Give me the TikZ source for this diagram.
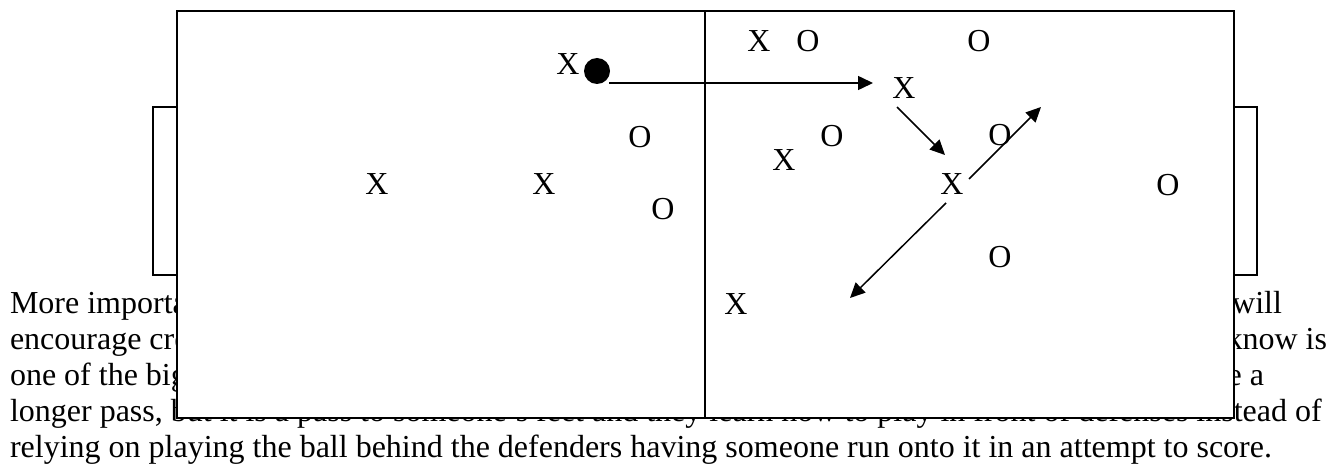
\documentclass[tikz,border=0pt]{standalone}
\usepackage{fontspec}
\setmainfont{Liberation Serif}
\usetikzlibrary{arrows.meta}
\begin{document}
\begin{tikzpicture}[x=1pt,y=-1pt,
  para/.style={inner sep=0pt, outer sep=0pt, font=\fontsize{32}{36}\selectfont},
  player/.style={inner sep=0pt, outer sep=0pt, font=\fontsize{32}{36}\selectfont},
  pitch/.style={draw=black, line width=1.5pt},
  pass/.style={line width=1.5pt, -{Triangle[length=15pt,width=14pt]}}]
\useasboundingbox (0,0) rectangle (1341,465);
\fill[white] (0,0) rectangle (1341,465);
% paragraph behind the pitch
\node[para, anchor=base west] (l1a) at (10,313) {More importa};
\node[para, anchor=base east] (l1b) at (1282,313) {will};
\node[para, anchor=base west] (l2a) at (10,349) {encourage cre};
\node[para, anchor=base east] (l2b) at (1327,349) {know is};
\node[para, anchor=base west] (l3a) at (10,385) {one of the big};
\node[para, anchor=base east] (l3b) at (1264,385) {e a};
\node[para, anchor=base west] (l4) at (10,421) {longer pass, but it is a pass to someone’s feet and they learn how to play in front of defenses instead of};
\node[para, anchor=base west] (l5) at (10,457) {relying on playing the ball behind the defenders having someone run onto it in an attempt to score.};
% pitch
\draw[pitch, fill=white] (177,11) rectangle (1234,418);
\draw[pitch] (153,107) rectangle (177,275);
\draw[pitch] (1234,107) rectangle (1257,275);
\draw[pitch] (705,11) -- (705,418);
% players
\node[player] (x1) at (568,64) {X};
\node[player] (x2) at (904,88) {X};
\node[player] (x3) at (759,41) {X};
\node[player] (o1) at (808,41) {O};
\node[player] (o2) at (979,41) {O};
\node[player] (o3) at (640,137) {O};
\node[player] (o4) at (832,136) {O};
\node[player] (x4) at (784,160) {X};
\node[player] (o5) at (1000,135) {O};
\node[player] (x5) at (952,184) {X};
\node[player] (x6) at (377,184) {X};
\node[player] (x7) at (544,184) {X};
\node[player] (o6) at (663,209) {O};
\node[player] (o7) at (1168,185) {O};
\node[player] (o8) at (1000,257) {O};
\node[player] (x8) at (736,304) {X};
% ball
\fill (597,71) circle[radius=13];
% arrow end points
\coordinate (a1s) at (609,83);
\coordinate (a1e) at (873,83);
\coordinate (a2s) at (897,107);
\coordinate (a2e) at (945,155);
\coordinate (a3s) at (969,179);
\coordinate (a3e) at (1041,107);
\coordinate (a4s) at (946,203);
\coordinate (a4e) at (850,298);
\draw[pass] (a1s) -- (a1e);
\draw[pass] (a2s) -- (a2e);
\draw[pass] (a3s) -- (a3e);
\draw[pass] (a4s) -- (a4e);
\end{tikzpicture}
\end{document}
